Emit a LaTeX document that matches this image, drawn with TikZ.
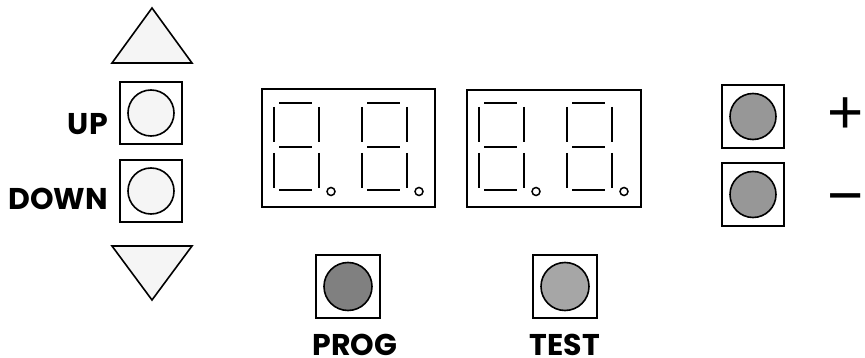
\documentclass[tikz,border=0pt]{standalone}
\usepackage{fontspec}
\setmainfont{Poppins}
\newfontfamily\symfont{Liberation Sans}
\definecolor{lightfill}{HTML}{F5F5F5}
\definecolor{midgray}{HTML}{979797}
\definecolor{darkgray}{HTML}{808080}
\definecolor{palegray}{HTML}{A6A6A6}
\tikzset{
  boxsq/.style={draw, line width=1.6pt, minimum width=62pt, minimum height=62pt, inner sep=0pt, fill=white},
  knob/.style={draw, circle, line width=1.6pt, minimum size=46pt, inner sep=0pt},
  dispbox/.style={draw, line width=1.8pt, inner sep=0pt},
  seg/.style={line width=1.8pt},
  lbl/.style={font=\bfseries\fontsize{30}{30}\selectfont, inner sep=0pt},
  sym/.style={font=\symfont\fontsize{62}{62}\selectfont, inner sep=0pt},
  tri/.style={draw, line width=1.6pt, fill=lightfill, line join=miter}
}
\newcommand{\sevenseg}[1]{%
  \draw[seg] (#1,107) -- (#1+0,142);
  \draw[seg] (#1,153) -- (#1+0,188);
  \draw[seg] (#1+45,107) -- (#1+45,142);
  \draw[seg] (#1+45,153) -- (#1+45,188);
  \draw[seg] (#1+5,103) -- (#1+38,103);
  \draw[seg] (#1+5,147) -- (#1+38,147);
  \draw[seg] (#1+5,190) -- (#1+38,190);
  \draw[line width=1.5pt] (#1+57,191.5) circle[radius=4pt];
}
\begin{document}
\begin{tikzpicture}[x=1pt,y=-1pt]
\useasboundingbox (0,0) rectangle (865,358);
% triangles
\draw[tri] (152,8) -- (192,63) -- (112,63) -- cycle;
\draw[tri] (112,246) -- (192,246) -- (152,300) -- cycle;
% up / down buttons
\node[boxsq] (upbox) at (151,113) {};
\node[knob, fill=lightfill] (upknob) at (upbox.center) {};
\node[boxsq] (downbox) at (151,191) {};
\node[knob, fill=lightfill] (downknob) at (downbox.center) {};
\node[lbl, anchor=base east] (uplbl) at (108,135) {UP};
\node[lbl, anchor=base east] (downlbl) at (108,210) {DOWN};
% displays
\node[dispbox, minimum width=173pt, minimum height=118pt] (disp1) at (348.5,148) {};
\node[dispbox, minimum width=174pt, minimum height=117pt] (disp2) at (554,148.5) {};
\sevenseg{274}
\sevenseg{362}
\sevenseg{479}
\sevenseg{567}
% right buttons
\node[boxsq, minimum height=63pt] (plusbox) at (753,116.5) {};
\node[knob, fill=midgray] (plusknob) at (plusbox.center) {};
\node[boxsq, minimum height=63pt] (minusbox) at (753,194.5) {};
\node[knob, fill=midgray] (minusknob) at (minusbox.center) {};
\node[sym, anchor=base] (pluslbl) at (846,134) {+};
\node[sym, anchor=base] (minuslbl) at (846,216.5) {−};
% prog / test
\node[boxsq, minimum width=64pt, minimum height=63pt] (progbox) at (348,286.5) {};
\node[knob, minimum size=48pt, fill=darkgray] (progknob) at (progbox.center) {};
\node[boxsq, minimum width=64pt, minimum height=63pt] (testbox) at (565,286.5) {};
\node[knob, minimum size=48pt, fill=palegray] (testknob) at (testbox.center) {};
\node[lbl, anchor=base] (proglbl) at (355,355) {PROG};
\node[lbl, anchor=base] (testlbl) at (565,355) {TEST};
\end{tikzpicture}
\end{document}
